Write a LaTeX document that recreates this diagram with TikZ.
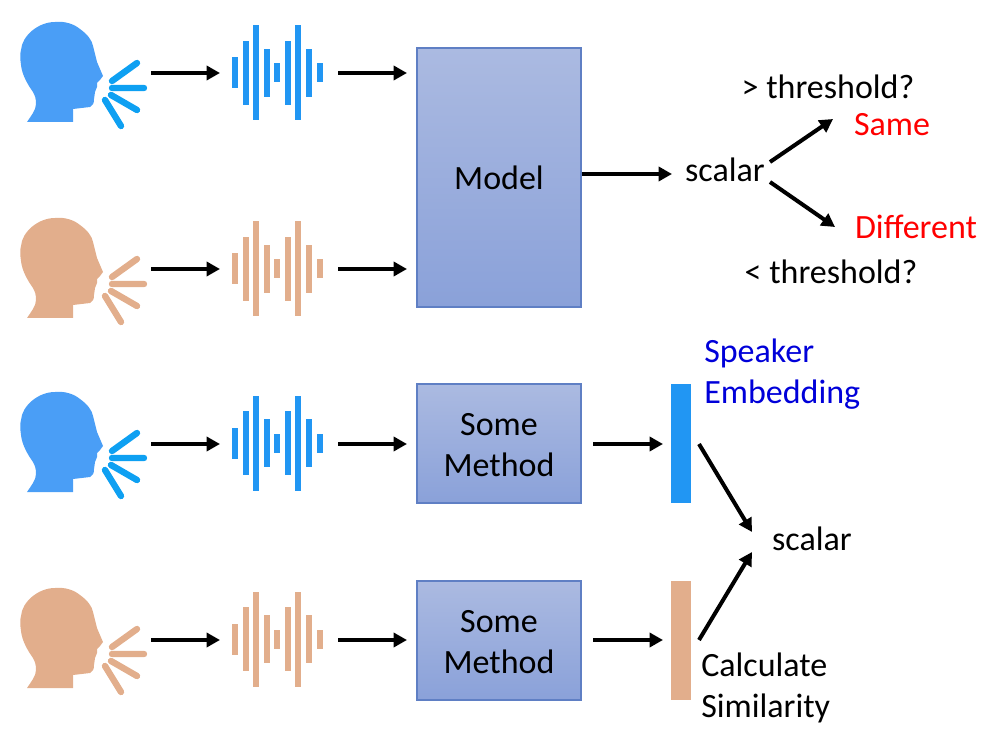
\documentclass[tikz,border=0pt]{standalone}
\usepackage{fontspec}
\setmainfont{Carlito}
\usepackage{xcolor}
\usetikzlibrary{arrows.meta}
\definecolor{headblue}{HTML}{4A9EF6}
\definecolor{rayblue}{HTML}{0EA0F2}
\definecolor{waveblue}{HTML}{2196F3}
\definecolor{skin}{HTML}{E2AE8C}
\definecolor{boxtop}{HTML}{ABBAE1}
\definecolor{boxbot}{HTML}{8AA1D9}
\definecolor{boxline}{HTML}{5F7FC4}
\tikzset{
  flow/.style={line width=3pt,-{Triangle[length=10pt,width=10.5pt]}},
  methodbox/.style={draw=boxline,line width=0.8pt,top color=boxtop,bottom color=boxbot,minimum width=123pt,inner sep=0pt},
  embed/.style={minimum width=15pt,minimum height=89.25pt,inner sep=0pt},
  txt/.style={inner sep=0pt,font=\fontsize{25.5}{30.8}\selectfont,align=left},
  pics/speaker/.style n args={2}{code={
    \fill[#1] (27,122) .. controls (31,116) and (36,110) .. (36,104) .. controls (36,98) and (35,96) .. (33,92) .. controls (28,85) and (22,75) .. (21,65) .. controls (20,58) and (20,54) .. (21,50) .. controls (22,36) and (38,22) .. (55,22) .. controls (65,21) and (74,24) .. (80,29) .. controls (87,34) and (92,40) .. (93,46) -- (97,62) -- (103,76) -- (100,80) -- (97,83) -- (97,87) -- (95,92) -- (94,99) .. controls (94,103) and (93,106) .. (90,107) -- (73,109) -- (73,122) -- cycle;
    \draw[#2,line width=4.8pt,line cap=round] (112,81) -- (137,63) (112,88) -- (144,88) (111,95) -- (137,110) (105,100) -- (121,126);
  }},
  pics/wave/.style={code={
    \foreach \wx/\wh in {235/15.5,246/32,256/47.5,267/24,277/9.5,288/32,298/47.5,309/24,320/9.5}
      \fill[#1] (\wx-2.8,73-\wh) rectangle (\wx+2.8,73+\wh);
  }},
}
\begin{document}
\begin{tikzpicture}[x=0.75pt,y=-0.75pt]
\useasboundingbox (0,0) rectangle (989,734);
% speakers and waves
\pic at (0,0) {speaker={headblue}{rayblue}};
\pic at (0,0) {wave=waveblue};
\pic at (0,196) {speaker={skin}{skin}};
\pic at (0,196) {wave=skin};
\pic at (0,370) {speaker={headblue}{rayblue}};
\pic at (0,370) {wave=waveblue};
\pic at (0,566) {speaker={skin}{skin}};
\pic at (0,566) {wave=skin};
% boxes
\node (model) [methodbox,minimum height=194.25pt] at (499,177.5) {};
\node (methodA) [methodbox,minimum height=89.25pt] at (499,443.5) {};
\node (methodB) [methodbox,minimum height=89.25pt] at (499,640.5) {};
\node (embedA) [embed,fill=waveblue] at (681,443.5) {};
\node (embedB) [embed,fill=skin] at (681,640.5) {};
% texts
\node (modeltxt) [txt] at (499,178) {Model};
\node (methodAtxt) [txt,align=center] at (499,445) {Some\\Method};
\node (methodBtxt) [txt,align=center] at (499,642) {Some\\Method};
\node (scalarA) [txt] at (725,170) {scalar};
\node (scalarB) [txt] at (812,539) {scalar};
\node (above) [txt] at (828,86.5) {> threshold?};
\node (below) [txt] at (831,271.5) {< threshold?};
\node (same) [txt,text=red] at (892,125) {Same};
\node (diff) [txt,text=red] at (916,227) {Different};
\node (speaker) [txt,text=blue!85!black,anchor=north west] at (704,339) {Speaker\\Embedding};
\node (simil) [txt,anchor=north west] at (701,653) {Calculate\\Similarity};
% free ends of the arrows
\foreach \rowname/\rowy in {a/73,b/269,c/444,d/640}{
  \coordinate (\rowname1) at (151,\rowy);
  \coordinate (\rowname2) at (220,\rowy);
  \coordinate (\rowname3) at (338,\rowy);
  \coordinate (\rowname4) at (407,\rowy);
  \draw[flow] (\rowname1) -- (\rowname2);
  \draw[flow] (\rowname3) -- (\rowname4);
}
\coordinate (c5) at (593,444);
\coordinate (c6) at (663,444);
\coordinate (d5) at (593,640);
\coordinate (d6) at (663,640);
\coordinate (forkup) at (770,162);
\coordinate (forkdown) at (770,182);
\coordinate (sameend) at (833,119);
\coordinate (diffend) at (835,227);
\coordinate (c7) at (699,444);
\coordinate (d7) at (699,640);
\coordinate (joinup) at (752,532);
\coordinate (joindown) at (752,552);
\coordinate (scalarin) at (672,174);
\draw[flow] (model.east |- scalarin) -- (scalarin);
\draw[flow] (c5) -- (c6);
\draw[flow] (d5) -- (d6);
\draw[flow] (forkup) -- (sameend);
\draw[flow] (forkdown) -- (diffend);
\draw[flow] (c7) -- (joinup);
\draw[flow] (d7) -- (joindown);
\end{tikzpicture}
\end{document}
